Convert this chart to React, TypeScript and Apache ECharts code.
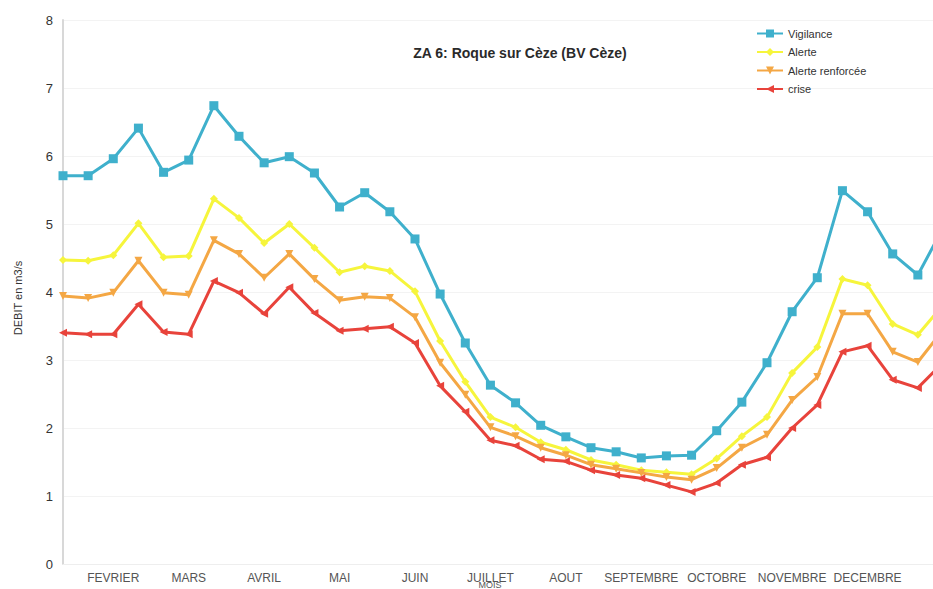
import React, { useEffect, useRef } from "react";
import * as echarts from "echarts";

const DEKADS: string[] = Array.from({ length: 36 }, (_, i) => `D${i + 1}`);
const MONTH_LABELS = [
  "FEVRIER", "MARS", "AVRIL", "MAI", "JUIN", "JUILLET", "AOUT",
  "SEPTEMBRE", "OCTOBRE", "NOVEMBRE", "DECEMBRE",
];
const Y_TICKS = [0, 1, 2, 3, 4, 5, 6, 7, 8];

const vigilance = [
  5.71, 5.71, 5.96, 6.41, 5.76, 5.94, 6.74, 6.29, 5.90, 5.99, 5.75, 5.25,
  5.46, 5.18, 4.78, 3.97, 3.25, 2.63, 2.37, 2.04, 1.87, 1.71, 1.65, 1.56,
  1.59, 1.60, 1.96, 2.38, 2.96, 3.71, 4.21, 5.49, 5.18, 4.56, 4.25, 4.94,
];
const alerte = [
  4.47, 4.46, 4.54, 5.01, 4.51, 4.53, 5.37, 5.09, 4.72, 5.00, 4.65, 4.29,
  4.38, 4.31, 4.01, 3.28, 2.68, 2.16, 2.01, 1.79, 1.68, 1.53, 1.46, 1.38,
  1.35, 1.32, 1.55, 1.88, 2.16, 2.81, 3.19, 4.19, 4.10, 3.53, 3.37, 3.81,
];
const alerteRenforcee = [
  3.94, 3.91, 3.99, 4.46, 3.99, 3.96, 4.76, 4.56, 4.21, 4.56, 4.19, 3.88,
  3.93, 3.91, 3.63, 2.96, 2.49, 2.01, 1.88, 1.71, 1.60, 1.46, 1.40, 1.34,
  1.28, 1.24, 1.41, 1.71, 1.90, 2.41, 2.75, 3.68, 3.68, 3.12, 2.97, 3.44,
];
const crise = [
  3.40, 3.38, 3.38, 3.82, 3.41, 3.38, 4.16, 3.99, 3.68, 4.07, 3.69, 3.43,
  3.46, 3.49, 3.25, 2.62, 2.24, 1.82, 1.74, 1.54, 1.51, 1.38, 1.31, 1.26,
  1.16, 1.06, 1.19, 1.46, 1.57, 2.00, 2.34, 3.12, 3.21, 2.71, 2.59, 2.96,
];

const FONT = "Liberation Sans, Arial, sans-serif";

export default function App() {
  const ref = useRef<HTMLDivElement>(null);
  useEffect(() => {
    document.body.style.margin = "0";
    if (!ref.current) return;
    const chart = echarts.init(ref.current, null, { renderer: "svg" });
    const mk = (name: string, data: number[], color: string, symbol: string, size: number, rotate = 0) => ({
      name,
      type: "line",
      data,
      symbol,
      symbolSize: size,
      symbolRotate: rotate,
      lineStyle: { color, width: 3 },
      itemStyle: { color },
      z: 2,
    });
    chart.setOption({
      animation: false,
      backgroundColor: "#ffffff",
      textStyle: { fontFamily: FONT },
      title: {
        text: "ZA 6: Roque sur Cèze (BV Cèze)",
        left: 515,
        top: 41,
        textAlign: "center",
        textStyle: { fontSize: 14, fontWeight: "bold", color: "#2a2a2a", fontFamily: FONT },
      },
      legend: {
        orient: "vertical",
        left: 751,
        top: 23,
        itemWidth: 26,
        itemHeight: 10,
        itemGap: 7.5,
        textStyle: { fontSize: 11, color: "#333", fontFamily: FONT },
        data: ["Vigilance", "Alerte", "Alerte renforcée", "crise"],
      },
      grid: {
        left: 63,
        top: 20,
        bottom: 25,
        width: 880,
        containLabel: false,
        outerBoundsMode: "none",
      },
      xAxis: {
        type: "category",
        data: DEKADS,
        boundaryGap: false,
        axisLine: { show: true, lineStyle: { color: "#eeeeee" } },
        axisTick: { show: false },
        axisLabel: {
          interval: 0,
          margin: 8,
          fontSize: 12,
          color: "#555",
          fontFamily: FONT,
          formatter: (_v: string, i: number) => (i % 3 === 2 ? MONTH_LABELS[(i - 2) / 3] ?? "" : ""),
        },
        splitLine: { show: false },
      },
      yAxis: {
        type: "value",
        min: Y_TICKS[0],
        max: Y_TICKS[Y_TICKS.length - 1],
        interval: 1,
        axisLine: { show: true, lineStyle: { color: "#d8d8d8", width: 2 } },
        axisTick: { show: false },
        axisLabel: { fontSize: 13, color: "#333", margin: 10, fontFamily: FONT },
        splitLine: { show: true, lineStyle: { color: "#f3f3f3" } },
      },
      graphic: [
        {
          type: "text",
          x: 18,
          y: 298,
          rotation: Math.PI / 2,
          style: {
            text: "DEBIT en m3/s",
            fontSize: 11,
            fontFamily: FONT,
            fill: "#333",
            align: "center",
            verticalAlign: "middle",
          },
        },
        {
          type: "text",
          x: 490,
          y: 585,
          style: {
            text: "MOIS",
            fontSize: 9,
            fontFamily: FONT,
            fill: "#555",
            align: "center",
            verticalAlign: "middle",
          },
        },
      ],
      series: [
        mk("Vigilance", vigilance, "#3fb0cc", "rect", 9),
        mk("Alerte", alerte, "#f6f53c", "diamond", 8),
        mk("Alerte renforcée", alerteRenforcee, "#f4a744", "triangle", 8, 180),
        mk("crise", crise, "#e8433b", "triangle", 8, 90),
      ],
    });
    return () => chart.dispose();
  }, []);
  return <div ref={ref} style={{ width: 933, height: 589, overflow: "hidden" }} />;
}
